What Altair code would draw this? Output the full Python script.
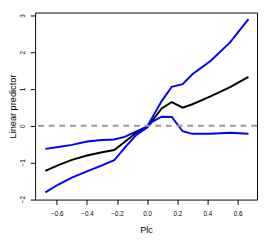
import altair as alt
import pandas as pd

x_vals = [-0.676, -0.59, -0.50, -0.40, -0.30, -0.219, -0.15, -0.075, 0.0, 0.03,
          0.096, 0.163, 0.235, 0.30, 0.42, 0.55, 0.672]
fit = [-1.23, -1.07, -0.93, -0.81, -0.72, -0.66, -0.44, -0.20, -0.03, 0.12,
       0.47, 0.645, 0.49, 0.585, 0.80, 1.05, 1.33]
upper = [-0.63, -0.58, -0.52, -0.43, -0.39, -0.374, -0.305, -0.16, -0.02, 0.20,
         0.67, 1.06, 1.13, 1.40, 1.76, 2.27, 2.90]
lower = [-1.815, -1.60, -1.41, -1.24, -1.08, -0.94, -0.60, -0.26, -0.05, 0.10,
         0.245, 0.237, -0.15, -0.22, -0.22, -0.19, -0.22]
y_ticks = [-2.0, -1.0, 0.0, 1.0, 2.0, 3.0]
x_ticks = [-0.6, -0.4, -0.2, 0.0, 0.2, 0.4, 0.6]

series_names = ["fit", "upper", "lower"]
series_colors = ["black", "#0000FF", "#0000FF"]

rows = []
for name, vals in zip(series_names, [fit, upper, lower]):
    for i, (xv, yv) in enumerate(zip(x_vals, vals)):
        rows.append({"series": name, "order": i, "Plc": xv, "lp": yv})
df = pd.DataFrame(rows)

FONT = "Liberation Sans"

xscale = alt.Scale(domain=[-0.744, 0.729], nice=False, zero=False)
yscale = alt.Scale(domain=[-2.01, 3.08], nice=False, zero=False)

xaxis = alt.Axis(values=x_ticks, tickCount=20, format=".1f",
                 grid=False, domain=False, tickColor="black", tickSize=5,
                 labelFontSize=6.5, labelFont=FONT, labelColor="black",
                 labelOverlap=False, labelFlush=False,
                 labelPadding=6, title="Plc", titleFont=FONT, titleFontSize=9.5,
                 titleFontWeight="normal", titleColor="black",
                 titleY=31, titleBaseline="middle")
yaxis = alt.Axis(values=y_ticks, tickCount=20, format=".0f",
                 grid=False, domain=False, tickColor="black", tickSize=5,
                 labelFontSize=6.5, labelFont=FONT, labelColor="black",
                 labelAngle=270, labelAlign="center", labelBaseline="bottom",
                 labelOverlap=False, labelFlush=False, labelBound=False,
                 labelPadding=5,
                 title="Linear predictor", titleFont=FONT, titleFontSize=9.5,
                 titleFontWeight="normal", titleColor="black",
                 titleAngle=270, titleX=-23, titleBaseline="middle")

lines = alt.Chart(df).mark_line(strokeWidth=2).encode(
    x=alt.X("Plc:Q", scale=xscale, axis=xaxis),
    y=alt.Y("lp:Q", scale=yscale, axis=yaxis),
    color=alt.Color("series:N", scale=alt.Scale(domain=series_names, range=series_colors), legend=None),
    detail="series:N",
    order="order:Q",
)

zero_line = alt.Chart(pd.DataFrame({"z": [0]})).mark_rule(
    color="#999999", strokeWidth=2, strokeDash=[6, 5]
).encode(y=alt.Y("z:Q", scale=yscale))

chart = alt.layer(lines, zero_line).properties(
    width=229, height=193,
    padding={"left": 28, "top": 1, "right": 1, "bottom": 38},
    autosize=alt.AutoSizeParams(type="none"),
).configure_view(stroke="black", strokeWidth=1)

chart.save("out.html", embed_options={"renderer": "svg", "actions": False})
